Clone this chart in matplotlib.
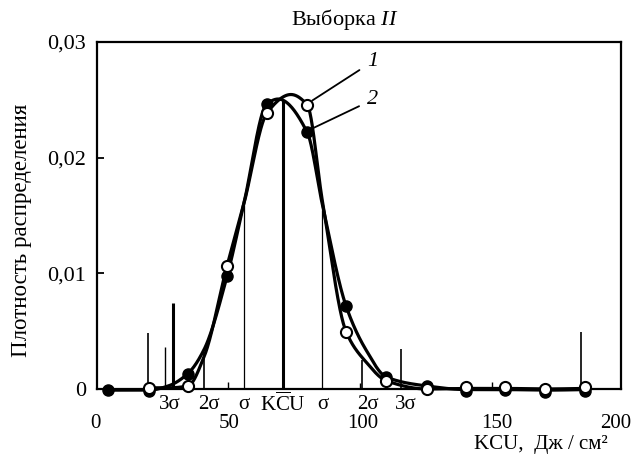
import numpy as np
import matplotlib
matplotlib.use("Agg")
import matplotlib.pyplot as plt
from matplotlib.transforms import blended_transform_factory

plt.rcParams['font.family'] = ['Liberation Serif', 'DejaVu Serif']
plt.rcParams['mathtext.fontset'] = 'custom'
plt.rcParams['mathtext.rm'] = 'Liberation Serif'
plt.rcParams['mathtext.it'] = 'Liberation Serif:italic'

FS = 16

# ---- data ----
# markers
x_filled = [4.7, 20.0, 34.6, 49.2, 64.2, 79.2, 93.7, 108.7, 124.0, 138.6, 153.2, 168.2, 183.1]
y_filled = [-0.0001, -0.0002, 0.00134, 0.00973, 0.02468, 0.02218, 0.00718, 0.00104,
            0.00026, -0.00015, -0.0001, -0.0003, -0.00015]
x_open = [20.0, 34.6, 49.2, 64.2, 79.2, 93.7, 108.7, 124.0, 138.6, 153.2, 168.2, 183.1]
y_open = [0.0001, 0.00026, 0.01063, 0.02389, 0.02455, 0.00497, 0.00072, 0.0,
          0.00017, 0.00017, 0.0, 0.00017]

# smooth curves
curve2_x = [4.7, 20.0, 27.2, 34.6, 40.6, 49.2, 55.4, 64.2, 68.3, 79.2, 84.9, 93.7, 101.2,
            108.7, 124.0, 138.6, 153.2, 168.2, 183.1]
curve2_y = [-0.0001, -0.0001, 0.00026, 0.00134, 0.0034, 0.00973, 0.0159, 0.02468, 0.02507,
            0.02218, 0.0159, 0.00718, 0.00337, 0.00104, 0.00026, -0.00005, -0.00005,
            -0.0001, -0.00005]
curve1_x = [20.0, 27.2, 34.6, 40.6, 49.2, 55.4, 64.2, 73.1, 79.2, 84.9, 93.7, 101.2,
            108.7, 124.0, 138.6, 153.2, 168.2, 183.1]
curve1_y = [0.0001, 0.0001, 0.00026, 0.00277, 0.01063, 0.0159, 0.02389, 0.02546, 0.02455,
            0.0162, 0.00497, 0.00233, 0.00072, 0.0, 0.00005, 0.00005, 0.0, 0.00005]

spike_x = [19.7, 26.0, 28.9, 40.6, 49.6, 55.4, 70.2, 84.9, 98.8, 99.7, 114.3, 148.3, 181.6]
spike_h = [0.00484, 0.00363, 0.00743, 0.0032, 0.00058, 0.0159, 0.0250, 0.0155,
           0.0005, 0.0025, 0.00346, 0.00063, 0.00493]
spike_w = [1.2, 1.0, 2.2, 1.2, 1.0, 0.9, 2.2, 0.9, 1.0, 1.2, 1.2, 1.0, 1.2]

sigma_labels = ['3σ', '2σ', 'σ', r'K$\overline{\mathrm{C}}$U', 'σ', '2σ', '3σ']
sigma_pos = [27.9, 42.5, 55.6, 70.2, 85.1, 101.9, 116.1]

xtick_vals = [0, 50, 100, 150, 200]
xtick_labels = ['0', '50', '100', '150', '200']
ytick_vals = [0, 0.01, 0.02, 0.03]
ytick_labels = ['0', '0,01', '0,02', '0,03']


def pchip(x, y, xs):
    x = np.asarray(x, float); y = np.asarray(y, float)
    h = np.diff(x); d = np.diff(y) / h
    n = len(x); m = np.zeros(n)
    for k in range(1, n - 1):
        if d[k - 1] * d[k] > 0:
            w1 = 2 * h[k] + h[k - 1]; w2 = h[k] + 2 * h[k - 1]
            m[k] = (w1 + w2) / (w1 / d[k - 1] + w2 / d[k])
    m[0] = d[0]; m[-1] = d[-1]
    idx = np.clip(np.searchsorted(x, xs) - 1, 0, n - 2)
    hh = h[idx]; t = (xs - x[idx]) / hh
    h00 = 2 * t ** 3 - 3 * t ** 2 + 1; h10 = t ** 3 - 2 * t ** 2 + t
    h01 = -2 * t ** 3 + 3 * t ** 2; h11 = t ** 3 - t ** 2
    return h00 * y[idx] + h10 * hh * m[idx] + h01 * y[idx + 1] + h11 * hh * m[idx + 1]


fig = plt.figure(figsize=(6.33, 4.57), dpi=100)
ax = fig.add_axes([97 / 633, 1 - 389 / 457, 524 / 633, 347 / 457])
ax.set_xlim(0.6, 196.5)
ax.set_ylim(0, 0.03)

for xv, hv, lw in zip(spike_x, spike_h, spike_w):
    ax.plot([xv, xv], [0, hv], color='black', lw=lw, solid_capstyle='butt', zorder=2)

xs2 = np.linspace(curve2_x[0], curve2_x[-1], 800)
ax.plot(xs2, pchip(curve2_x, curve2_y, xs2), color='black', lw=2.3, zorder=3, clip_on=False)
xs1 = np.linspace(curve1_x[0], curve1_x[-1], 800)
ax.plot(xs1, pchip(curve1_x, curve1_y, xs1), color='black', lw=2.3, zorder=3, clip_on=False)

ax.plot(x_filled, y_filled, 'o', ms=8, color='black', zorder=4, clip_on=False)
ax.plot(x_open, y_open, 'o', ms=8, mfc='white', mec='black', mew=1.5, zorder=5, clip_on=False)

ax.annotate('1', xy=(x_open[4] + 0.6, y_open[4] + 0.0002), xytext=(101.5, 0.0283),
            fontsize=FS, style='italic', va='center', ha='left',
            arrowprops=dict(arrowstyle='-', color='black', lw=1.3, shrinkA=4, shrinkB=3))
ax.annotate('2', xy=(x_filled[5] + 0.6, y_filled[5] + 0.0002), xytext=(101.5, 0.0250),
            fontsize=FS, style='italic', va='center', ha='left',
            arrowprops=dict(arrowstyle='-', color='black', lw=1.3, shrinkA=4, shrinkB=3))

for s in ax.spines.values():
    s.set_linewidth(1.6)

ax.set_xticks([])
ax.set_yticks(ytick_vals)
ax.set_yticklabels(ytick_labels, fontsize=FS)
ax.tick_params(axis='y', direction='in', length=5, width=1.3, pad=8)

tr = blended_transform_factory(ax.transData, ax.transAxes)
for p, lab in zip(sigma_pos, sigma_labels):
    ax.text(p, -0.045, lab, transform=tr, ha='center', va='center', fontsize=15, clip_on=False)
for i, (p, lab) in enumerate(zip(xtick_vals, xtick_labels)):
    ha = 'right' if i == len(xtick_vals) - 1 else 'center'
    ax.text(p + (0.4 if ha == 'right' else 0), -0.100, lab, transform=tr, ha=ha,
            va='center', fontsize=15, clip_on=False)

ax.text(0.975, -0.160, 'KCU,  Дж / см²', transform=ax.transAxes, ha='right', va='center',
        fontsize=15, clip_on=False)
fig.text(22 / 633, 1 - 230 / 457, 'Плотность распределения', rotation=90,
         ha='center', va='center', fontsize=FS + 0.5)
fig.text(345 / 633, 1 - 19 / 457, 'Выборка $\\mathit{II}$', ha='center', va='center', fontsize=FS)

fig.savefig('out.png', dpi=100)
